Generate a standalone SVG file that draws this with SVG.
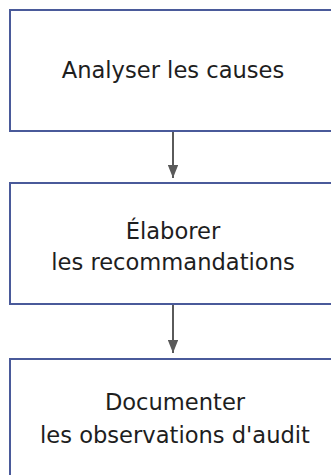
<svg xmlns="http://www.w3.org/2000/svg" width="331" height="475" viewBox="0 0 331 475">
  <style>
    .box { fill: #ffffff; stroke: #4a5a9a; stroke-width: 2; }
    .label { font-family: "DejaVu Sans", "Liberation Sans", sans-serif; font-size: 22.6px; fill: #1e1e1e; text-anchor: middle; }
    .conn { stroke: #5a5a5a; stroke-width: 2; fill: none; }
  </style>
  <defs>
    <marker id="arrow" markerWidth="6.5" markerHeight="5.2" refX="6.5" refY="2.6" orient="auto" markerUnits="strokeWidth">
      <path d="M0,0 L6.5,2.6 L0,5.2 Z" fill="#5a5a5a"/>
    </marker>
  </defs>
  <rect width="331" height="475" fill="#ffffff"/>

  <g id="node-analyser">
    <rect class="box" x="10" y="10" width="330" height="121"/>
    <text class="label" x="173" y="78">Analyser les causes</text>
  </g>

  <g id="node-elaborer">
    <rect class="box" x="10" y="183" width="330" height="121"/>
    <text class="label" x="173" y="239">Élaborer</text>
    <text class="label" x="173" y="270">les recommandations</text>
  </g>

  <g id="node-documenter">
    <rect class="box" x="10" y="359" width="330" height="130"/>
    <text class="label" x="175" y="410">Documenter</text>
    <text class="label" x="175" y="443">les observations d'audit</text>
  </g>

  <g id="connectors">
    <line class="conn" x1="173" y1="132" x2="173" y2="178" marker-end="url(#arrow)"/>
    <line class="conn" x1="173" y1="305" x2="173" y2="353" marker-end="url(#arrow)"/>
  </g>
</svg>
